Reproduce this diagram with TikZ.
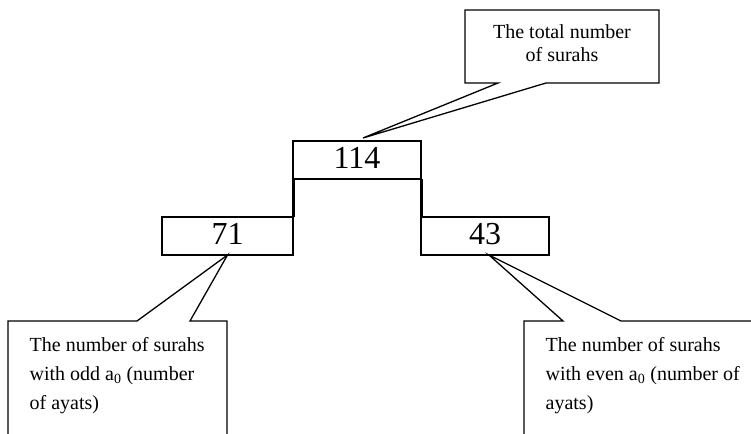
\documentclass[tikz,border=0pt]{standalone}
\usepackage{fontspec}
\setmainfont{Liberation Serif}
\usetikzlibrary{positioning,calc}

\begin{document}
\begin{tikzpicture}[x=1pt, y=-1pt, line width=1.3pt,
    main/.style = {draw, rectangle, minimum width=128pt, minimum height=38pt, inner sep=0pt, outer sep=0pt, text depth=5pt, font=\fontsize{32}{36}\selectfont},
    note/.style = {inner sep=0pt, align=left, anchor=north west, font=\fontsize{20}{29}\selectfont},
    link/.style = {line width=3pt}]
    \useasboundingbox (0,0) rectangle (751,433);
    \clip (0,0) rectangle (751,433);
    \node[main] (all) at (357,160) {114};
    \node[main, minimum width=131pt, below left=38pt and 0pt of all.south west] (odd) {71};
    \node[main, below right=38pt and 0pt of all.south east] (even) {43};
    \draw[link] (all.south west) -- (odd.north east);
    \draw[link] (all.south east) -- (even.north west);
    % callouts
    \node[note, align=center, anchor=north, font=\fontsize{20}{23}\selectfont] (allnote) at (562,24.3) {The total number\\of surahs};
    \node[note] (oddnote) at (29,336.3) {The number of surahs\\with odd a\textsubscript{0} (number\\of ayats)};
    \node[note] (evennote) at (545,336.3) {The number of surahs\\with even a\textsubscript{0} (number of\\ayats)};
    \draw (465,83) -- (465,10) -- (659,10) -- (659,83) -- (546,83) -- ($(all.north)+(6,-3)$) -- (498,83) -- cycle;
    \draw (227,470) -- (227,321) -- (190,321) -- (odd.south) -- (137,321) -- (8,321) -- (8,470);
    \draw (780,470) -- (780,321) -- (621,321) -- ($(even.south)+(4,0)$) -- (563,321) -- (524,321) -- (524,470);
\end{tikzpicture}
\end{document}
